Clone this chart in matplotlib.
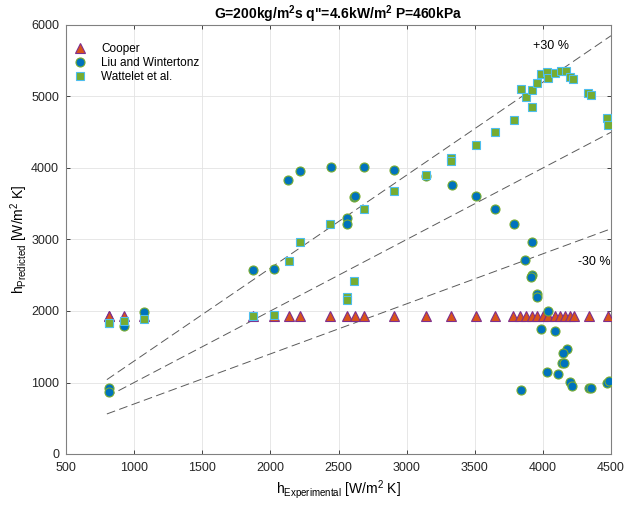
import matplotlib
matplotlib.use("Agg")
import matplotlib.pyplot as plt
import numpy as np

plt.rcParams['font.family'] = ['Liberation Sans', 'DejaVu Sans']
plt.rcParams['mathtext.fontset'] = 'custom'
plt.rcParams['mathtext.rm'] = 'Liberation Sans'
plt.rcParams['mathtext.it'] = 'Liberation Sans'
plt.rcParams['mathtext.bf'] = 'Liberation Sans:bold'

# ---- data ----
cooper_x = [815, 815, 926, 1073, 1870, 2027, 2134, 2215, 2440, 2562, 2621, 2689, 2907, 3140,
            3326, 3507, 3651, 3783, 3832, 3874, 3918, 3955, 4003, 4040, 4089, 4126, 4162,
            4199, 4231, 4341, 4476]
cooper_y = [1930] * len(cooper_x)

liu_x = [815, 815, 926, 1073, 1870, 2027, 2132, 2217, 2442, 2565, 2565, 2614, 2623, 2689,
         2907, 3142, 3331, 3507, 3651, 3790, 3869, 3918, 3918, 3913, 3955, 3959, 4038, 3986,
         4086, 4174, 4150, 4138, 4155, 4030, 4111, 4199, 4216, 4341, 4351, 4473, 4483, 3837]
liu_y = [919, 872, 1791, 1987, 2578, 2592, 3829, 3959, 4020, 3306, 3222, 3595, 3609, 4020,
         3977, 3893, 3763, 3609, 3423, 3218, 2714, 2966, 2504, 2472, 2234, 2201, 2005, 1744,
         1725, 1465, 1417, 1269, 1277, 1152, 1115, 1003, 951, 919, 928, 989, 1026, 891]

wat_x = [815, 815, 926, 1073, 1870, 2027, 2134, 2220, 2440, 2563, 2563, 2616, 2689, 2907,
         3142, 3326, 3326, 3507, 3651, 3790, 3837, 3874, 3918, 3918, 3955, 3986, 4028, 4040,
         4089, 4131, 4167, 4199, 4219, 4334, 4351, 4468, 4480]
wat_y = [1837, 1837, 1865, 1884, 1931, 1940, 2704, 2966, 3213, 2200, 2154, 2424, 3432, 3684,
         3908, 4137, 4103, 4319, 4500, 4673, 5111, 4990, 4850, 5092, 5195, 5316, 5344, 5264,
         5326, 5358, 5358, 5278, 5242, 5054, 5017, 4696, 4598]

band_x = [800, 4500]
band_factors = [1.3, 1.0, 0.7]
band_labels = ['+30 %', '-30 %']

xticks = [500, 1000, 1500, 2000, 2500, 3000, 3500, 4000, 4500]
yticks = [0, 1000, 2000, 3000, 4000, 5000, 6000]

# ---- figure ----
fig = plt.figure(figsize=(6.26, 5.08), dpi=100)
ax = fig.add_axes([66/626, 1-454/508, 545/626, 429/508])

bx = np.array(band_x, dtype=float)
for f in band_factors:
    ax.plot(bx, f*bx, color='#5a5a5a', lw=0.7, dashes=(9, 4.5), zorder=2)

ax.plot(cooper_x, cooper_y, linestyle='none', marker='^', ms=7.5,
        mfc='#D95319', mec='#7E2F8E', mew=0.8, label='Cooper', zorder=3)
ax.plot(liu_x, liu_y, linestyle='none', marker='o', ms=6.5,
        mfc='#0072BD', mec='#77AC30', mew=0.8, label='Liu and Wintertonz', zorder=4)
ax.plot(wat_x, wat_y, linestyle='none', marker='s', ms=5.8,
        mfc='#77AC30', mec='#4DBEEE', mew=0.8, label='Wattelet et al.', zorder=5)

ax.text(4060, 5700, band_labels[0], ha='center', va='center', fontsize=9)
ax.text(4380, 2690, band_labels[1], ha='center', va='center', fontsize=9)

ax.set_xlim(500, 4500)
ax.set_ylim(0, 6000)
ax.set_xticks(xticks)
ax.set_yticks(yticks)
ax.tick_params(direction='in', length=3, width=0.6, colors='#262626', labelsize=9,
               top=True, right=True)
ax.tick_params(axis='x', pad=6)
ax.tick_params(axis='y', pad=5)
ax.grid(True, color='#e3e3e3', lw=0.6)
ax.set_axisbelow(True)
for s in ax.spines.values():
    s.set_color('#808080')
    s.set_linewidth(0.8)

ax.set_xlabel(r'h$_{\mathregular{Experimental}}$ [W/m$^{\mathregular{2}}$ K]', fontsize=10, labelpad=3)
ax.set_ylabel(r'h$_{\mathregular{Predicted}}$ [W/m$^{\mathregular{2}}$ K]', fontsize=10, labelpad=1)
ax.set_title(r'G=200kg/m$^{\mathbf{2}}$s q"=4.6kW/m$^{\mathbf{2}}$ P=460kPa', fontsize=10,
             fontweight='bold', pad=4)

leg = ax.legend(loc='upper left', bbox_to_anchor=(0.0, 0.978), frameon=False, fontsize=8.5,
                handletextpad=1.3, borderaxespad=0.3, labelspacing=0.2, handlelength=1.0)

fig.savefig('out.png', dpi=100)
